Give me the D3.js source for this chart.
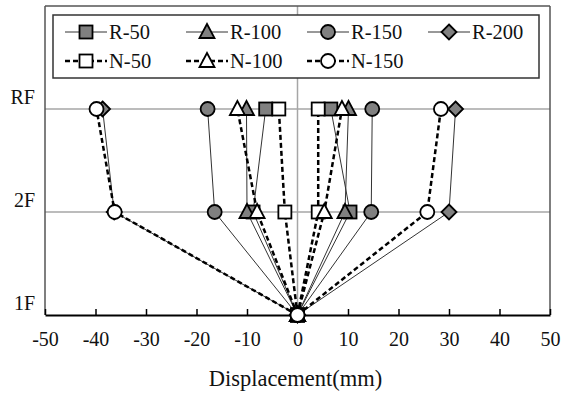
<!DOCTYPE html>
<html><head><meta charset="utf-8">
<script src="https://cdn.jsdelivr.net/npm/d3@7"></script>
<style>body{margin:0;background:#fff}svg{display:block}</style>
</head><body>
<script>
const floors = ["1F", "2F", "RF"];
const xTicks = [-50, -40, -30, -20, -10, 0, 10, 20, 30, 40, 50];
const seriesNames = ["R-50", "R-100", "R-150", "R-200", "N-50", "N-100", "N-150"];
// displacement at 1F, 2F, RF (positive and negative directions)
const R50_pos = [0, 10.4, 6.6],   R50_neg = [0, -8.8, -6.3];
const R100_pos = [0, 9.4, 10.1],  R100_neg = [0, -10.0, -10.1];
const R150_pos = [0, 14.6, 14.8], R150_neg = [0, -16.4, -17.8];
const R200_pos = [0, 30.0, 31.3], R200_neg = [0, -36.3, -38.6];
const N50_pos = [0, 4.1, 4.1],    N50_neg = [0, -2.5, -3.7];
const N100_pos = [0, 5.3, 8.8],   N100_neg = [0, -8.0, -11.9];
const N150_pos = [0, 25.7, 28.4], N150_neg = [0, -36.2, -39.8];

const seriesData = [
  [R50_pos, R50_neg], [R100_pos, R100_neg], [R150_pos, R150_neg], [R200_pos, R200_neg],
  [N50_pos, N50_neg], [N100_pos, N100_neg], [N150_pos, N150_neg]
];
const markerType = ["square", "triangle", "circle", "diamond", "square", "triangle", "circle"];

const FONT = "'Liberation Serif', 'Times New Roman', serif";
const W = 570, H = 393;
const L = 45, R = 550, T = 6, B = 315;
const svg = d3.select("body").append("svg").attr("width", W).attr("height", H);
const x = d3.scaleLinear().domain([-50, 50]).range([L, R]);
const y = d3.scaleLinear().domain([0, 3]).range([B, T]);

// grid
const grid = svg.append("g");
[1, 2].forEach(i => grid.append("line").attr("x1", L).attr("x2", R).attr("y1", y(i)).attr("y2", y(i))
  .attr("stroke", "#a6a6a6").attr("stroke-width", 1.5));
grid.append("line").attr("x1", x(0)).attr("x2", x(0)).attr("y1", T).attr("y2", B)
  .attr("stroke", "#a6a6a6").attr("stroke-width", 1.5);

// frame
svg.append("line").attr("x1", L).attr("x2", R).attr("y1", T).attr("y2", T).attr("stroke", "#555").attr("stroke-width", 1.5);
svg.append("line").attr("x1", R).attr("x2", R).attr("y1", T).attr("y2", B).attr("stroke", "#555").attr("stroke-width", 1.5);
svg.append("line").attr("x1", L).attr("x2", L).attr("y1", T).attr("y2", B).attr("stroke", "#555").attr("stroke-width", 1.5);

// x axis
const xAxis = d3.axisBottom(x).tickValues(xTicks).tickSizeInner(-6).tickSizeOuter(0).tickPadding(17)
  .tickFormat(d => String(d));
const gx = svg.append("g").attr("transform", `translate(0,${B})`).call(xAxis);
gx.attr("font-family", null);
gx.select(".domain").attr("stroke", "#000").attr("stroke-width", 2);
gx.selectAll(".tick line").attr("stroke", "#000").attr("stroke-width", 1.5);
gx.selectAll(".tick text").style("font-family", FONT).style("font-size", "20px").attr("fill", "#111");

svg.append("text").attr("x", (L + R) / 2 - 2).attr("y", 386).attr("text-anchor", "middle")
  .style("font-family", FONT).style("font-size", "22.5px").attr("fill", "#111").text("Displacement(mm)");

// y labels
floors.forEach((f, i) => svg.append("text").attr("x", 35).attr("y", y(i) - 12).attr("dy", "0.35em")
  .attr("text-anchor", "end").style("font-family", FONT).style("font-size", "20px").attr("fill", "#111").text(f));

function marker(g, type, cx, cy, fill) {
  const s = 13;
  let el;
  if (type === "square") el = g.append("rect").attr("x", cx - s / 2).attr("y", cy - s / 2).attr("width", s).attr("height", s);
  else if (type === "circle") el = g.append("circle").attr("cx", cx).attr("cy", cy).attr("r", 7);
  else if (type === "triangle") el = g.append("path").attr("d", `M${cx},${cy - 8}L${cx + 7.5},${cy + 6}L${cx - 7.5},${cy + 6}Z`);
  else el = g.append("path").attr("d", `M${cx},${cy - 7.5}L${cx + 7.5},${cy}L${cx},${cy + 7.5}L${cx - 7.5},${cy}Z`);
  el.attr("fill", fill).attr("stroke", "#000").attr("stroke-width", 1.8);
}

const line = d3.line().x(d => x(d)).y((d, i) => y(i));
const plot = svg.append("g");
seriesData.forEach((pair, si) => {
  const isN = seriesNames[si].startsWith("N");
  const g = plot.append("g");
  pair.forEach(vals => {
    g.append("path").datum(vals).attr("d", line).attr("fill", "none")
      .attr("stroke", isN ? "#000" : "#333").attr("stroke-width", isN ? 2.5 : 1)
      .attr("stroke-dasharray", isN ? "5,3" : null);
  });
  pair.forEach(vals => vals.forEach((v, i) => marker(g, markerType[si], x(v), y(i), isN ? "#fff" : "#808080")));
});

// legend
const lg = svg.append("g");
lg.append("rect").attr("x", 53).attr("y", 15).attr("width", 486).attr("height", 63)
  .attr("fill", "#fff").attr("stroke", "#333").attr("stroke-width", 1.5);
seriesNames.forEach((n, i) => {
  const col = i < 4 ? i : i - 4, row = i < 4 ? 0 : 1;
  const lx = 65 + col * 121, ly = 32 + row * 29;
  const isN = n.startsWith("N");
  lg.append("line").attr("x1", lx).attr("x2", lx + 42).attr("y1", ly).attr("y2", ly)
    .attr("stroke", isN ? "#000" : "#333").attr("stroke-width", isN ? 2.5 : 1)
    .attr("stroke-dasharray", isN ? "5,3" : null);
  marker(lg, markerType[i], lx + 21, ly, isN ? "#fff" : "#808080");
  lg.append("text").attr("x", lx + 44).attr("y", ly).attr("dy", "0.35em")
    .style("font-family", FONT).style("font-size", "20.5px").attr("fill", "#111").text(n);
});
</script>
</body></html>
